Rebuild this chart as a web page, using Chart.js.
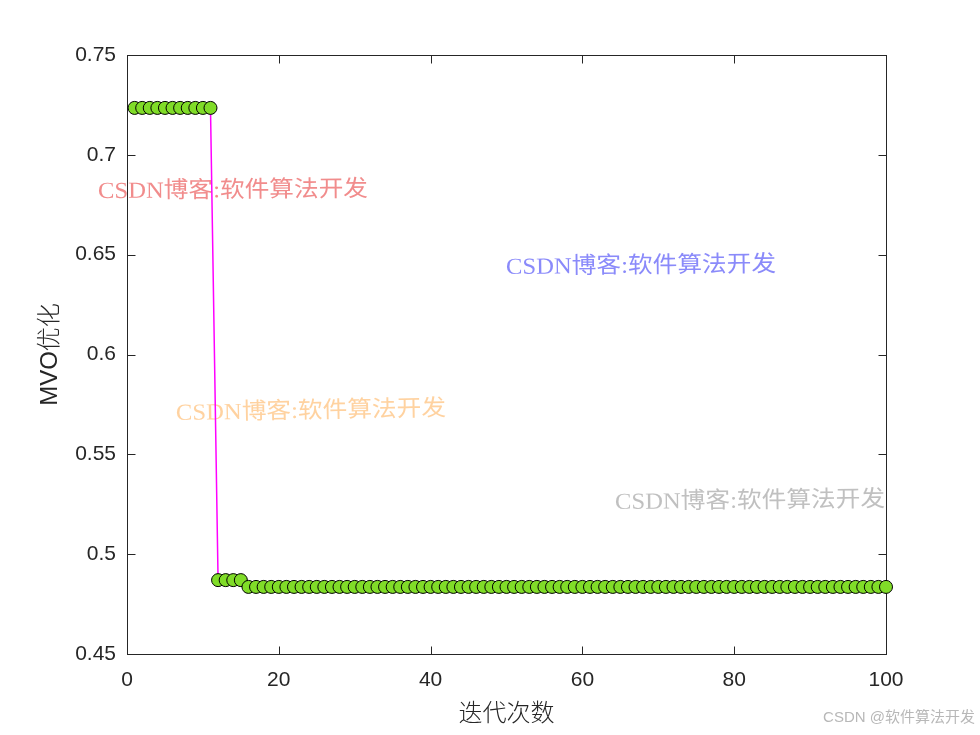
<!doctype html>
<html>
<head>
<meta charset="utf-8">
<title>MVO优化</title>
<script src="https://cdn.jsdelivr.net/npm/chart.js@4.4.1/dist/chart.umd.min.js"></script>
<style>
  html, body { margin: 0; padding: 0; background: #fff; }
  #holder { width: 980px; height: 735px; }
</style>
</head>
<body>
<div id="holder"><canvas id="chart-area" width="980" height="735"></canvas></div>
<script>
// iteration numbers 1..100
var iterations = [];
for (var i = 1; i <= 100; i++) iterations.push(i);

// best fitness per iteration
var fitness = [
  0.7235, 0.7235, 0.7235, 0.7235, 0.7235, 0.7235, 0.7235, 0.7235, 0.7235, 0.7235,
  0.7235, 0.4870, 0.4870, 0.4870, 0.4870, 0.4836, 0.4836, 0.4836, 0.4836, 0.4836,
  0.4836, 0.4836, 0.4836, 0.4836, 0.4836, 0.4836, 0.4836, 0.4836, 0.4836, 0.4836,
  0.4836, 0.4836, 0.4836, 0.4836, 0.4836, 0.4836, 0.4836, 0.4836, 0.4836, 0.4836,
  0.4836, 0.4836, 0.4836, 0.4836, 0.4836, 0.4836, 0.4836, 0.4836, 0.4836, 0.4836,
  0.4836, 0.4836, 0.4836, 0.4836, 0.4836, 0.4836, 0.4836, 0.4836, 0.4836, 0.4836,
  0.4836, 0.4836, 0.4836, 0.4836, 0.4836, 0.4836, 0.4836, 0.4836, 0.4836, 0.4836,
  0.4836, 0.4836, 0.4836, 0.4836, 0.4836, 0.4836, 0.4836, 0.4836, 0.4836, 0.4836,
  0.4836, 0.4836, 0.4836, 0.4836, 0.4836, 0.4836, 0.4836, 0.4836, 0.4836, 0.4836,
  0.4836, 0.4836, 0.4836, 0.4836, 0.4836, 0.4836, 0.4836, 0.4836, 0.4836, 0.4836
];

var xTicks = [0, 20, 40, 60, 80, 100];
var yTicks = [0.45, 0.5, 0.55, 0.6, 0.65, 0.7, 0.75];

var axisColor = '#262626';
var tickFont = { family: "'Liberation Sans', Arial, sans-serif", size: 21 };
var titleFont = { family: "'Liberation Sans', 'Noto Sans CJK SC', sans-serif", size: 24, weight: 300 };

// watermarks, in pixel space
var marks = [
  { x: 98,  y: 192, color: 'rgba(240,128,128,0.9)', rot: -0.4 },
  { x: 506, y: 268, color: 'rgba(125,125,250,0.9)', rot: -0.6 },
  { x: 176, y: 414, color: 'rgba(255,205,150,0.9)', rot: -1.0 },
  { x: 615, y: 503, color: 'rgba(185,185,185,0.9)', rot: -0.6 }
];
var markText = 'CSDN博客:软件算法开发';

var framePlugin = {
  id: 'frame',
  beforeDatasetsDraw: function(chart) {
    var ctx = chart.ctx, a = chart.chartArea;
    var xs = chart.scales.x, ys = chart.scales.y;
    ctx.save();
    // watermarks
    ctx.font = "23px 'Liberation Serif', 'Noto Sans CJK SC', serif";
    ctx.textBaseline = 'middle';
    marks.forEach(function(m) {
      var w = ctx.measureText(markText).width;
      ctx.save();
      ctx.translate(m.x, m.y);
      ctx.rotate(m.rot * Math.PI / 180);
      ctx.scale(270 / w, 1);
      ctx.fillStyle = m.color;
      ctx.fillText(markText, 0, 0);
      ctx.restore();
    });
    // box
    ctx.strokeStyle = axisColor;
    ctx.lineWidth = 1;
    var L = Math.round(a.left) + 0.5, R = Math.round(a.right) + 0.5;
    var T = Math.round(a.top) + 0.5, B = Math.round(a.bottom) + 0.5;
    ctx.strokeRect(L, T, R - L, B - T);
    // inward ticks on all four sides
    var tl = 8;
    ctx.beginPath();
    xTicks.forEach(function(v) {
      var px = Math.round(xs.getPixelForValue(v)) + 0.5;
      ctx.moveTo(px, B); ctx.lineTo(px, B - tl);
      ctx.moveTo(px, T); ctx.lineTo(px, T + tl);
    });
    yTicks.forEach(function(v) {
      var py = Math.round(ys.getPixelForValue(v)) + 0.5;
      ctx.moveTo(L, py); ctx.lineTo(L + tl, py);
      ctx.moveTo(R, py); ctx.lineTo(R - tl, py);
    });
    ctx.stroke();
    ctx.restore();
  },
  afterDraw: function(chart) {
    var ctx = chart.ctx;
    ctx.save();
    ctx.font = "15px 'Liberation Sans', 'Noto Sans CJK SC', sans-serif";
    ctx.fillStyle = '#b8b8b8';
    ctx.textAlign = 'right';
    ctx.textBaseline = 'middle';
    ctx.fillText('CSDN @软件算法开发', 975, 718);
    ctx.restore();
  }
};

var config = {
  type: 'scatter',
  data: {
    datasets: [{
      data: iterations.map(function(it, i) { return { x: it, y: fitness[i] }; }),
      showLine: true,
      borderColor: '#ff00ff',
      borderWidth: 1.5,
      pointRadius: 6.5,
      pointBorderWidth: 1,
      pointBorderColor: '#000000',
      pointBackgroundColor: '#80dc28',
      clip: false
    }]
  },
  options: {
    responsive: false,
    animation: false,
    devicePixelRatio: 1,
    layout: { padding: { top: 55, right: 94, left: 0, bottom: 0 } },
    plugins: { legend: { display: false }, tooltip: { enabled: false } },
    scales: {
      x: {
        type: 'linear',
        min: 0, max: 100,
        grid: { display: false, drawTicks: false },
        border: { display: false },
        afterBuildTicks: function(s) { s.ticks = xTicks.map(function(v) { return { value: v }; }); },
        afterFit: function(s) { s.height = 81; },
        ticks: { color: axisColor, font: tickFont, padding: 14, maxRotation: 0 },
        title: { display: true, text: '迭代次数', color: axisColor, font: titleFont, padding: { top: 0, bottom: 6 } }
      },
      y: {
        type: 'linear',
        min: 0.45, max: 0.75,
        grid: { display: false, drawTicks: false },
        border: { display: false },
        afterBuildTicks: function(s) { s.ticks = yTicks.map(function(v) { return { value: v }; }); },
        afterFit: function(s) { s.width = 127; },
        ticks: {
          color: axisColor, font: tickFont, padding: 11,
          callback: function(v) { return String(+v.toFixed(2)); }
        },
        title: { display: true, text: 'MVO优化', color: axisColor, font: titleFont, padding: { top: 36, bottom: 0 } }
      }
    }
  },
  plugins: [framePlugin]
};

window.onload = function() {
  var ctx = document.getElementById('chart-area').getContext('2d');
  window.myChart = new Chart(ctx, config);
};
</script>
</body>
</html>
